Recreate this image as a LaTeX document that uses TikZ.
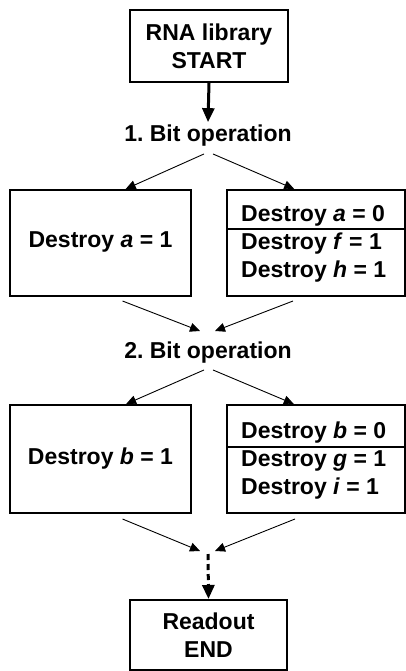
\documentclass[tikz,border=0pt]{standalone}
\usepackage{fontspec}
\setmainfont{Liberation Sans}
\usetikzlibrary{arrows.meta,positioning}
\tikzset{
    block/.style = {draw, rectangle, line width=2pt, inner sep=0pt,
        minimum height=106pt,
        minimum width=181pt},
    endblock/.style = {block, align=center,
        minimum height=72pt,
        minimum width=158pt},
    optext/.style = {inner sep=0pt, font=\bfseries\fontsize{23}{28}\selectfont},
    arrow/.style = {draw, line width=0.9pt, -{Triangle[length=10pt,width=9pt]}},
    bigarrow/.style = {draw, line width=3pt, -{Triangle[length=14pt,width=12pt]}}
}
\frenchspacing
\begin{document}
\begin{tikzpicture}[x=1pt,y=-1pt]
            \useasboundingbox (0,0) rectangle (406,671);
            \node[endblock, optext] (start) at (209,46) {RNA library\\START};
            \node[optext, anchor=base] (bit1) at (208,142) {1. Bit operation};
            \draw[bigarrow] (start.south) -- ([yshift=3pt]bit1.north);
            \node[block] (leftA) at (100.5,243) {};
            \node[block, minimum width=178pt] (rightA) at (316,243) {};
            \node[optext] (killA1) at (100.5,242) {Destroy \textit{a} = 1};
            \node[optext, anchor=base west] (killA0) at (241,221) {Destroy \textit{a} = 0};
            \node[optext, anchor=base west] (killF) at (241,249) {Destroy \textit{f} = 1};
            \node[optext, anchor=base west] (killH) at (241,277) {Destroy \textit{h} = 1};
            \draw[line width=2pt] (rightA.west |- 0,229) -- (rightA.east |- 0,229);
            \draw[arrow] ([xshift=-4pt,yshift=-7pt]bit1.south) -- (leftA.65);
            \draw[arrow] ([xshift=5pt,yshift=-7pt]bit1.south) -- (rightA.112);
            \coordinate (merge1) at (208,331);
            \node[optext, anchor=base] (bit2) at (208,358) {2. Bit operation};
            \draw[arrow] ([xshift=22pt,yshift=-4pt]leftA.south) -- ([xshift=-8pt]merge1);
            \draw[arrow] ([xshift=-23pt,yshift=-4pt]rightA.south) -- ([xshift=7pt]merge1);
            \node[block, minimum height=108pt] (leftB) at (100.5,459) {};
            \node[block, minimum height=108pt, minimum width=178pt] (rightB) at (316,459) {};
            \node[optext] (killB1) at (100.5,459) {Destroy \textit{b} = 1};
            \node[optext, anchor=base west] (killB0) at (241,438) {Destroy \textit{b} = 0};
            \node[optext, anchor=base west] (killG) at (241,466) {Destroy \textit{g} = 1};
            \node[optext, anchor=base west] (killI) at (241,494) {Destroy \textit{i} = 1};
            \draw[line width=2pt] (rightB.west |- 0,447) -- (rightB.east |- 0,447);
            \draw[arrow] ([xshift=-4pt,yshift=-7pt]bit2.south) -- (leftB.65);
            \draw[arrow] ([xshift=5pt,yshift=-7pt]bit2.south) -- (rightB.112);
            \coordinate (merge2) at (208,551);
            \node[endblock, optext, minimum width=157pt, minimum height=70pt] (readout) at (208.5,635) {Readout\\END};
            \draw[arrow] ([xshift=22pt,yshift=-5pt]leftB.south) -- ([xshift=-8pt]merge2);
            \draw[arrow] ([xshift=-21pt,yshift=-5pt]rightB.south) -- ([xshift=7pt]merge2);
            \draw[bigarrow, dash pattern=on 6pt off 4pt] ([yshift=-3pt]merge2) -- (readout.north);
        \end{tikzpicture}
\end{document}
